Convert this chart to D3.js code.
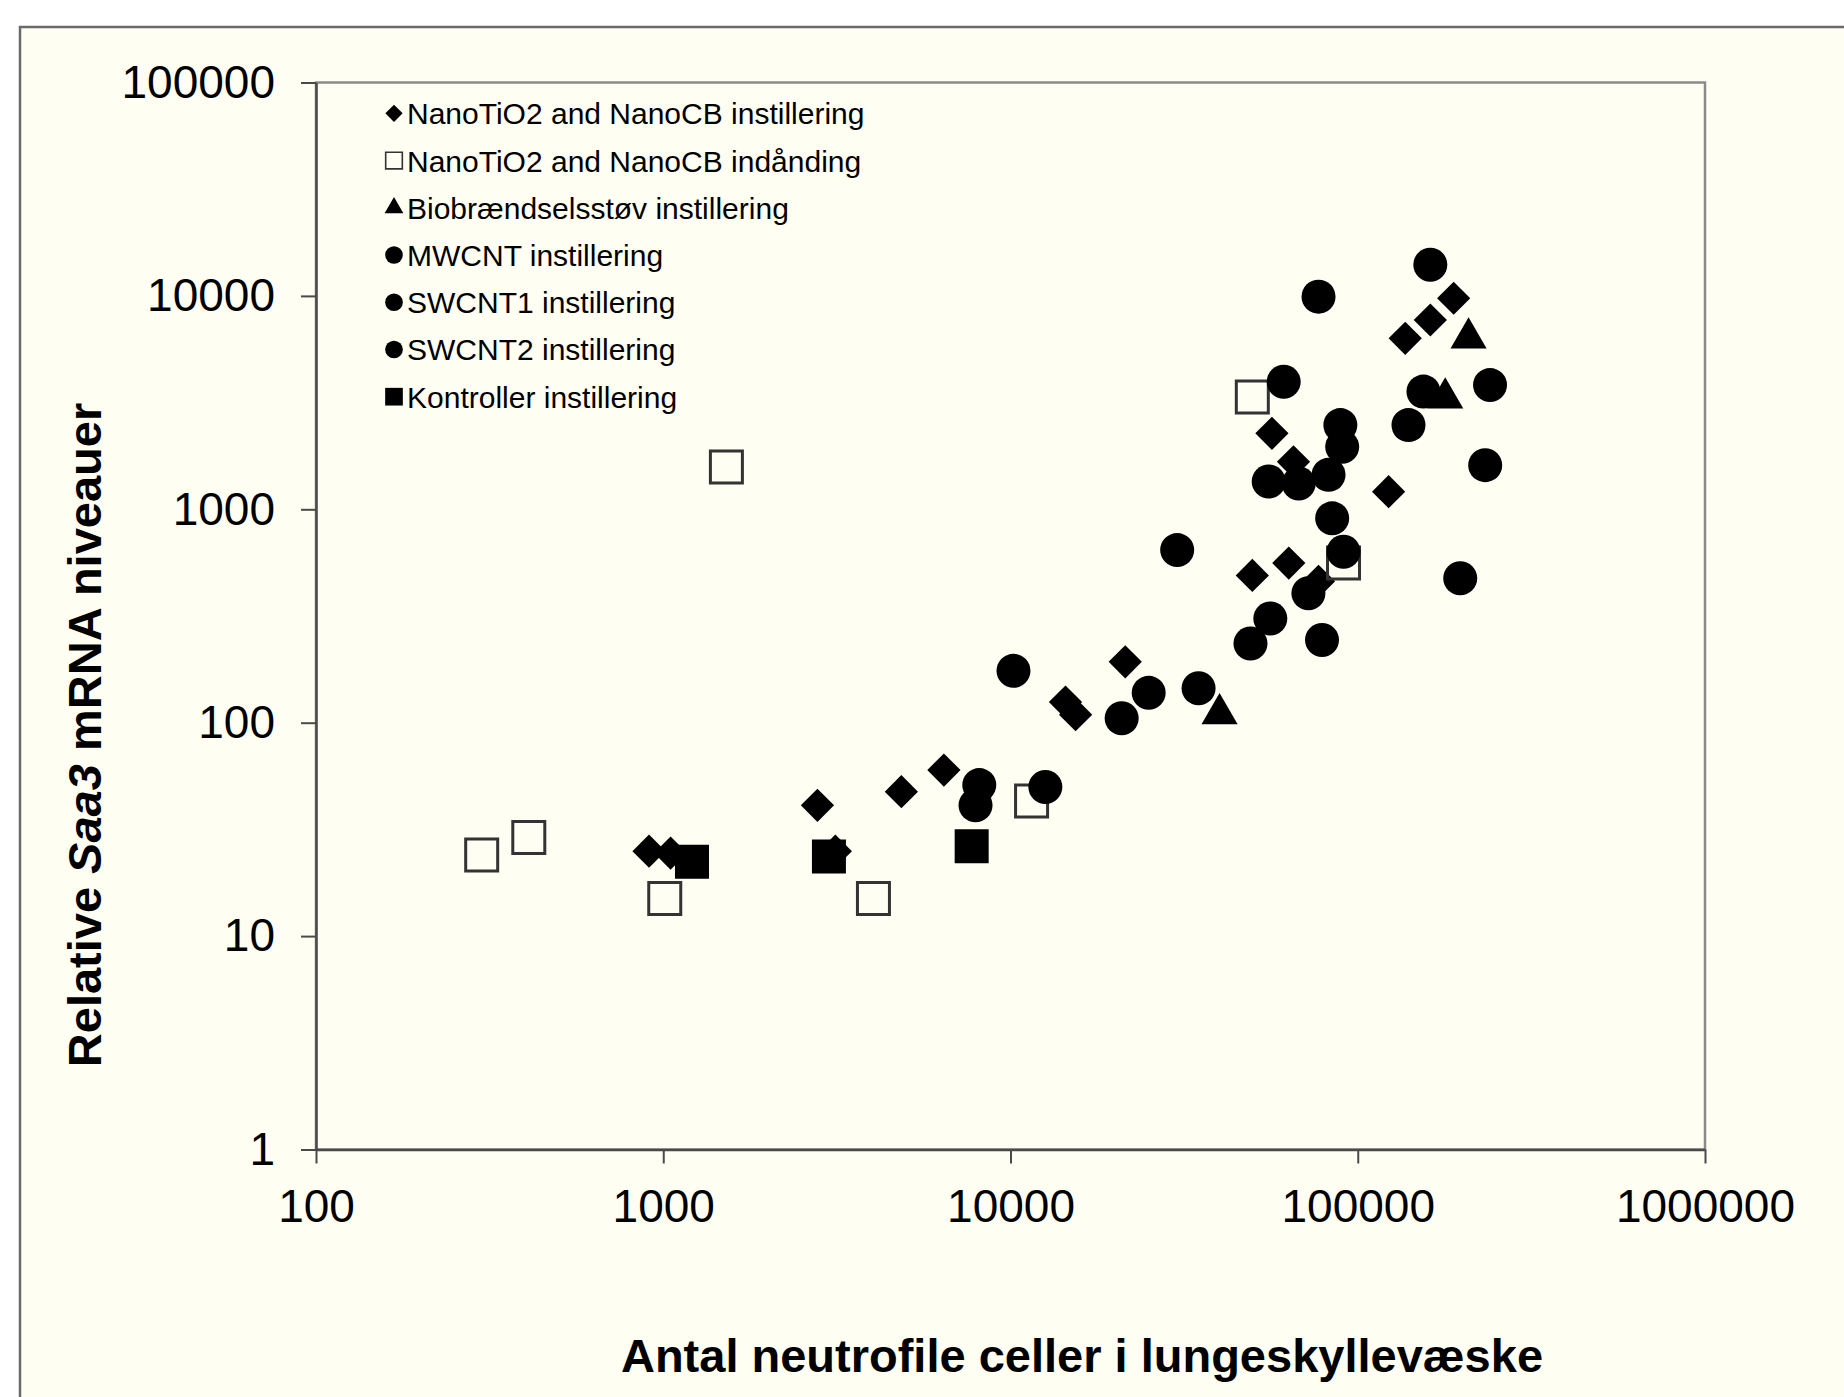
<!DOCTYPE html>
<html>
<head>
<meta charset="utf-8">
<script src="https://cdn.jsdelivr.net/npm/d3@7"></script>
<style>
  body { margin: 0; background: #ffffff; }
  svg text { font-family: "Liberation Sans", Arial, sans-serif; fill: #000; }
</style>
</head>
<body>
<div id="chart"></div>
<script>
// data: [neutrophils, relative Saa3 mRNA]
var tio2Instil = [[910, 25], [1050, 24.5], [2780, 41], [3130, 25], [4850, 47.5], [6430, 60],
    [14400, 125], [15400, 109], [21400, 193], [49700, 490], [63300, 560], [77100, 460],
    [56600, 2270], [65300, 1670], [122700, 1210], [137000, 6330], [161800, 7710], [188900, 9750]];
var tio2Inhal = [[300, 24], [410, 29], [1010, 15], [1520, 1580], [4030, 15], [11500, 43],
    [49700, 3360], [91000, 560]];
var bioInstil = [[40000, 110], [178600, 3320], [208500, 6350]];
var mwcnt = [[8130, 51], [7930, 41], [12600, 50], [10200, 175], [20900, 105], [25000, 138],
    [34800, 145], [30200, 644], [49100, 235]];
var swcnt1 = [[56000, 308], [72100, 404], [78900, 244], [91000, 633], [84400, 907],
    [55400, 1350], [67600, 1320], [82400, 1450], [89100, 2480]];
var swcnt2 = [[90200, 1965], [61200, 3960], [77100, 9920], [161800, 14000], [154600, 3560],
    [140000, 2480], [240400, 3820], [232800, 1610], [197300, 475]];
var kontrol = [[1210, 22.3], [3000, 23.6], [7730, 26.4]];

var xTicks = [100, 1000, 10000, 100000, 1000000];
var yTicks = [1, 10, 100, 1000, 10000, 100000];

var series = [
    { name: "NanoTiO2 and NanoCB instillering", data: tio2Instil, shape: "diamond" },
    { name: "NanoTiO2 and NanoCB indånding", data: tio2Inhal, shape: "open" },
    { name: "Biobrændselsstøv instillering", data: bioInstil, shape: "triangle" },
    { name: "MWCNT instillering", data: mwcnt, shape: "circle" },
    { name: "SWCNT1 instillering", data: swcnt1, shape: "circle" },
    { name: "SWCNT2 instillering", data: swcnt2, shape: "circle" },
    { name: "Kontroller instillering", data: kontrol, shape: "square" }
];

var width = 1844, height = 1397;
var plot = { left: 316, right: 1705, top: 82.5, bottom: 1149.5 };

var svg = d3.select("#chart").append("svg")
    .attr("width", width)
    .attr("height", height);

// cream panel with the outer frame
svg.append("rect")
    .attr("x", 20).attr("y", 27)
    .attr("width", width).attr("height", height)
    .attr("fill", "#fefef3")
    .attr("stroke", "#6a6a6a")
    .attr("stroke-width", 2.5);

var x = d3.scaleLog().domain([100, 1000000]).range([plot.left, plot.right]);
var y = d3.scaleLog().domain([1, 100000]).range([plot.bottom, plot.top]);

// plot border (top and right)
svg.append("rect")
    .attr("x", plot.left).attr("y", plot.top)
    .attr("width", plot.right - plot.left).attr("height", plot.bottom - plot.top)
    .attr("fill", "none")
    .attr("stroke", "#8a8a8a")
    .attr("stroke-width", 2.5);

var yAxis = svg.append("g")
    .attr("transform", "translate(" + plot.left + ",0)")
    .call(d3.axisLeft(y).tickValues(yTicks).tickFormat(d3.format("d"))
        .tickSize(15).tickSizeOuter(0).tickPadding(26));

var xAxis = svg.append("g")
    .attr("transform", "translate(0," + plot.bottom + ")")
    .call(d3.axisBottom(x).tickValues(xTicks).tickFormat(d3.format("d"))
        .tickSize(14).tickSizeOuter(0).tickPadding(26));

[xAxis, yAxis].forEach(function (ax) {
    ax.select(".domain").attr("stroke", "#4a4a4a").attr("stroke-width", 2.5);
    ax.selectAll(".tick line").attr("stroke", "#4a4a4a").attr("stroke-width", 2);
    ax.selectAll(".tick text")
        .style("font-size", "46px")
        .style("font-family", "'Liberation Sans', Arial, sans-serif")
        .attr("fill", "#000");
});

// marker shapes
function shapePath(shape, big) {
    var s = big ? 1 : 0.52;
    if (shape == "circle") return d3.symbol(d3.symbolCircle, Math.PI * 17 * 17 * s * s)();
    if (shape == "diamond") return d3.symbol(d3.symbolSquare, 23.5 * 23.5 * s * s)();
    if (shape == "triangle") return d3.symbol(d3.symbolTriangle, 565 * s * s)();
    if (shape == "open") return d3.symbol(d3.symbolSquare, 32 * 32 * s * s)();
    return d3.symbol(d3.symbolSquare, 34 * 34 * s * s)();
}

function styleMarker(sel, shape, big) {
    sel.attr("d", shapePath(shape, big));
    if (shape == "open") {
        sel.attr("fill", "none").attr("stroke", "#333").attr("stroke-width", big ? 3 : 1.6);
    } else {
        sel.attr("fill", "#000");
    }
}

series.forEach(function (s) {
    var g = svg.append("g");
    g.selectAll("path")
        .data(s.data)
        .join("path")
        .attr("transform", function (d) {
            var t = "translate(" + x(d[0]) + "," + y(d[1]) + ")";
            if (s.shape == "diamond") t += " rotate(45)";
            return t;
        })
        .call(styleMarker, s.shape, true);
});

// legend
var legend = svg.append("g");
var rowY = d3.scalePoint().domain(series.map(function (d) { return d.name; }))
    .range([113.3, 396.7]);

series.forEach(function (s) {
    var row = legend.append("g")
        .attr("transform", "translate(0," + rowY(s.name) + ")");
    row.append("path")
        .attr("transform", "translate(394,0)" + (s.shape == "diamond" ? " rotate(45)" : ""))
        .call(styleMarker, s.shape, false);
    row.append("text")
        .attr("x", 407)
        .attr("y", 11)
        .style("font-size", "30px")
        .text(s.name);
});

// axis titles
svg.append("text")
    .attr("x", 1082)
    .attr("y", 1372)
    .attr("text-anchor", "middle")
    .style("font-size", "47px")
    .style("font-weight", "bold")
    .text("Antal neutrofile celler i lungeskyllevæske");

var yTitle = svg.append("text")
    .attr("transform", "translate(101,735) rotate(-90)")
    .attr("text-anchor", "middle")
    .style("font-size", "47px")
    .style("font-weight", "bold");
yTitle.append("tspan").text("Relative ");
yTitle.append("tspan").style("font-style", "italic").text("Saa3");
yTitle.append("tspan").text(" mRNA niveauer");
</script>
</body>
</html>
